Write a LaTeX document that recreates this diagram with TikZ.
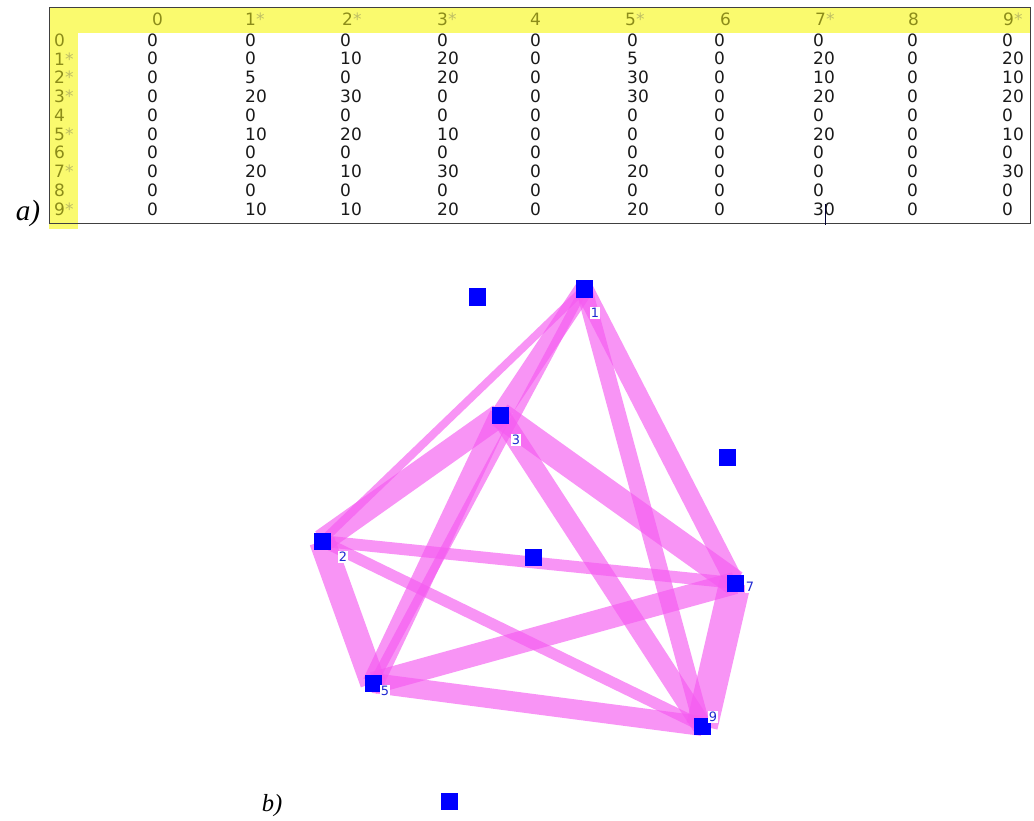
\documentclass[tikz,border=0pt]{standalone}
\usepackage{fontspec}
\setmainfont{Liberation Serif}
\newfontfamily\tabfont{DejaVu Sans}
\usetikzlibrary{calc, backgrounds}

\definecolor{hdryellow}{RGB}{250,250,110}
\definecolor{hdrtext}{RGB}{140,140,25}
\definecolor{hdrstar}{RGB}{190,190,100}
\definecolor{vertexblue}{RGB}{0,0,255}
\definecolor{labelblue}{RGB}{30,40,210}
\definecolor{hatchpink}{RGB}{245,90,240}

\newcommand{\st}{\textcolor{hdrstar}{*}}
% band between two vertices: from, to, half width
\newcommand{\band}[3]{%
  \fill[hatchpink, fill opacity=0.65]
    ($(#1)!#3!90:(#2)$) -- ($(#2)!#3!-90:(#1)$) -- ($(#2)!#3!90:(#1)$) -- ($(#1)!#3!-90:(#2)$) -- cycle;}

\begin{document}
\begin{tikzpicture}[
    x=0.03cm, y=-0.03cm,
    cell/.style={anchor=west, inner sep=0pt, font=\tabfont\fontsize{14.5}{14.5}\selectfont, text=black!90},
    hdr/.style={cell, text=hdrtext},
    vertex/.style={rectangle, fill=vertexblue, minimum size=0.51cm, inner sep=0pt},
    vlabel/.style={fill=white, inner sep=0.8pt, text=labelblue, font=\tabfont\fontsize{11}{11}\selectfont},
    caption/.style={inner sep=0pt, font=\itshape}
]
\useasboundingbox (0,0) rectangle (1034,821);

% Table a)
\fill[hdryellow] (49,7) rectangle (1030,33);
\fill[hdryellow] (49,7) rectangle (78,229);
\draw[black!75, line width=0.8pt] (49,7) rectangle (1030,223);

\foreach \lab/\x [count=\i from 0] in {0/152, 1\st/245, 2\st/342, 3\st/437, 4/530, 5\st/625, 6/720, 7\st/815, 8/908, 9\st/1003}
  \node[hdr] (hdr-\i) at (\x,19) {\lab};

\foreach \lab [count=\r from 0] in {0, 1\st, 2\st, 3\st, 4, 5\st, 6, 7\st, 8, 9\st}
  \node[hdr] (rowlab-\r) at (54,40+18.8*\r) {\lab};

\foreach \vals [count=\r from 0] in {
    {0,0,0,0,0,0,0,0,0,0},
    {0,0,10,20,0,5,0,20,0,20},
    {0,5,0,20,0,30,0,10,0,10},
    {0,20,30,0,0,30,0,20,0,20},
    {0,0,0,0,0,0,0,0,0,0},
    {0,10,20,10,0,0,0,20,0,10},
    {0,0,0,0,0,0,0,0,0,0},
    {0,20,10,30,0,20,0,0,0,30},
    {0,0,0,0,0,0,0,0,0,0},
    {0,10,10,20,0,20,0,30,0,0}} {
  \foreach \v [count=\c from 0] in \vals {
    \pgfmathsetmacro{\cx}{{147,245,340,437,530,627,714,813,907,1002}[\c]}
    \node[cell] (cell-\r-\c) at (\cx,40+18.8*\r) {\v};
  }
}
\draw[black!80!blue, line width=0.6pt] (825,204) -- (825,225);

\node[caption, font=\itshape\fontsize{25}{29}\selectfont] (capa) at (28,213) {a)};

% Graph b)
\node[vertex] (v0) at (477,297) {};
\node[vertex] (v1) at (584,289) {};
\node[vertex] (v3) at (500,415) {};
\node[vertex] (v6) at (727,457) {};
\node[vertex] (v2) at (322,541) {};
\node[vertex] (v4) at (533,557) {};
\node[vertex] (v7) at (735,583) {};
\node[vertex] (v5) at (373,683) {};
\node[vertex] (v9) at (702,726) {};
\node[vertex] (v8) at (449,801) {};

\begin{pgfonlayer}{background}
\band{v1}{v2}{3.4pt}
\band{v1}{v3}{8pt}
\band{v1}{v5}{3.6pt}
\band{v1}{v7}{8pt}
\band{v1}{v9}{7pt}
\band{v2}{v3}{10pt}
\band{v2}{v5}{11pt}
\band{v2}{v7}{5pt}
\band{v2}{v9}{4.8pt}
\band{v3}{v5}{9pt}
\band{v3}{v7}{11pt}
\band{v3}{v9}{8.5pt}
\band{v5}{v7}{9.5pt}
\band{v5}{v9}{8.5pt}
\band{v7}{v9}{13.5pt}
\end{pgfonlayer}

\node[vlabel] (l1) at (595,313) {1};
\node[vlabel] (l3) at (516,440) {3};
\node[vlabel] (l2) at (343,557) {2};
\node[vlabel] (l5) at (385,691) {5};
\node[vlabel] (l7) at (750,587) {7};
\node[vlabel] (l9) at (713,717) {9};

\node[caption, font=\itshape\fontsize{21}{25}\selectfont] (capb) at (272,806) {b)};

\end{tikzpicture}
\end{document}
